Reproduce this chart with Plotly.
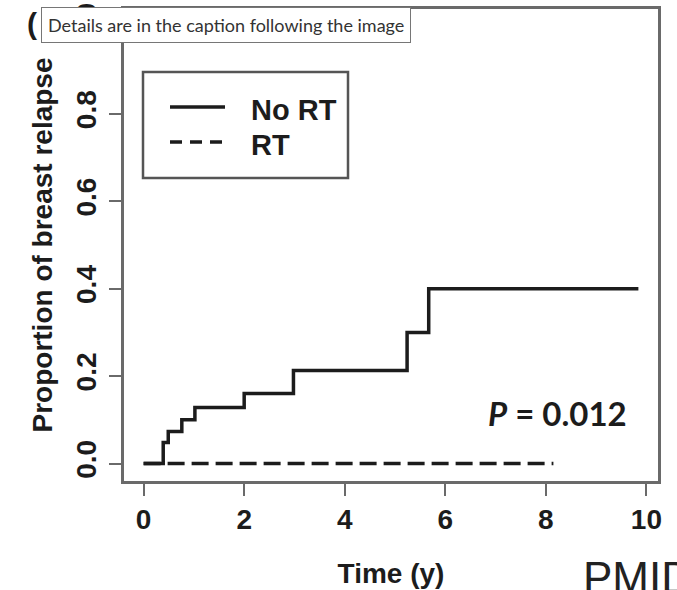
import plotly.graph_objects as go

# ---- data ----
no_rt_time = [0.0, 0.39, 0.49, 0.76, 1.02, 2.00, 2.98, 5.24, 5.67, 9.84]
no_rt_prop = [0.0, 0.048, 0.073, 0.100, 0.128, 0.160, 0.213, 0.300, 0.400, 0.400]
rt_time = [0.0, 8.15]
rt_prop = [0.0, 0.0]
x_ticks = [0, 2, 4, 6, 8, 10]
y_ticks = [0.0, 0.2, 0.4, 0.6, 0.8, 1.0]
y_tick_labels = ["0.0", "0.2", "0.4", "0.6", "0.8", "1.0"]
p_text = "<i>P</i> = 0.012"

W, H = 677, 590
L, R, T, B = 124, 19, 9, 109
PW, PH = W - L - R, H - T - B


def px(xp):
    return (xp - L) / PW


def py(yp):
    return (H - B - yp) / PH


INK = "#1c1c1c"
AXC = "#6a6a6a"
FONT = "Liberation Sans, Arial, sans-serif"

fig = go.Figure()
fig.add_trace(go.Scatter(x=no_rt_time, y=no_rt_prop, mode="lines", name="No RT",
                         line=dict(shape="hv", color=INK, width=3.5), showlegend=False))
fig.add_trace(go.Scatter(x=rt_time, y=rt_prop, mode="lines", name="RT",
                         line=dict(color=INK, width=3.5, dash="17px,7px"), showlegend=False))

axis_common = dict(showline=True, mirror=True, linecolor=AXC, linewidth=2.5,
                   ticks="outside", ticklen=12, tickwidth=2, tickcolor=AXC,
                   showgrid=False, zeroline=False, automargin=False,
                   tickfont=dict(family=FONT, size=28, color=INK, weight="bold"))

fig.update_xaxes(range=[-0.39, 10.23], tickvals=x_ticks, ticklabelstandoff=0,
                 title=dict(text="Time (y)", standoff=30,
                            font=dict(family=FONT, size=28, color=INK, weight="bold")),
                 **axis_common)
fig.update_yaxes(range=[-0.04, 1.04], tickvals=y_ticks, ticktext=y_tick_labels,
                 tickangle=-90, ticklabelstandoff=2,
                 title=dict(text="Proportion of breast relapse", standoff=11,
                            font=dict(family=FONT, size=28, color=INK, weight="bold")),
                 **axis_common)

shapes = [
    dict(type="rect", xref="paper", yref="paper", x0=px(143), x1=px(348), y0=py(178), y1=py(72),
         line=dict(color="#555555", width=2.5), fillcolor="white", layer="below"),
    dict(type="line", xref="paper", yref="paper", x0=px(170), x1=px(225), y0=py(107), y1=py(107),
         line=dict(color=INK, width=3.5)),
    dict(type="line", xref="paper", yref="paper", x0=px(170), x1=px(225), y0=py(142), y1=py(142),
         line=dict(color=INK, width=3.5, dash="12px,8px")),
]

annotations = [
    dict(text="No RT", xref="paper", yref="paper", x=px(249), y=py(110), xanchor="left",
         yanchor="middle", showarrow=False,
         font=dict(family=FONT, size=29, color=INK, weight="bold")),
    dict(text="RT", xref="paper", yref="paper", x=px(249), y=py(145), xanchor="left",
         yanchor="middle", showarrow=False,
         font=dict(family=FONT, size=29, color=INK, weight="bold")),
    dict(text=p_text, xref="paper", yref="paper", x=px(486), y=py(413), xanchor="left",
         yanchor="middle", showarrow=False,
         font=dict(family="Lato, sans-serif", size=33, color=INK, weight="bold")),
    dict(text="(\u2009A)", xref="paper", yref="paper", x=px(25), y=py(23), xanchor="left",
         yanchor="middle", showarrow=False,
         font=dict(family=FONT, size=30, color=INK, weight="bold")),
    dict(text="Details are in the caption following the image", xref="paper", yref="paper",
         x=px(41), y=py(7), xanchor="left", yanchor="top", showarrow=False, align="left",
         bgcolor="white", bordercolor="#767676", borderwidth=1, borderpad=6,
         font=dict(family="Lato, sans-serif", size=18, color="#333333")),
    dict(text="PMID", xref="paper", yref="paper", x=px(581), y=py(551), xanchor="left",
         yanchor="top", showarrow=False,
         font=dict(family=FONT, size=44, color="#222222")),
]

fig.update_layout(width=W, height=H, margin=dict(l=L, r=R, t=T, b=B, autoexpand=False),
                  paper_bgcolor="white", plot_bgcolor="white",
                  shapes=shapes, annotations=annotations, showlegend=False)

fig.write_html("out.html", config={"displayModeBar": False},
               post_script="document.body.style.margin='0';document.body.style.overflow='hidden';")
